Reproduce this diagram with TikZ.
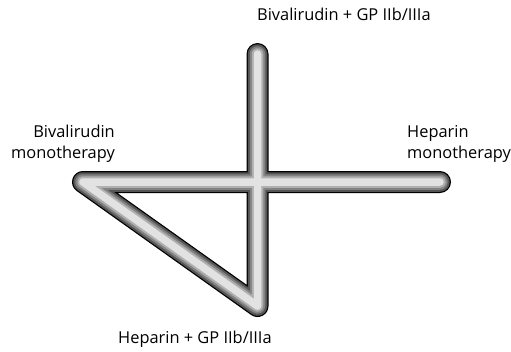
\documentclass[tikz,border=0pt]{standalone}
\usepackage{fontspec}
\setmainfont{Open Sans}
\usepackage{tikz}
\usetikzlibrary{positioning,calc}
\definecolor{tubedark}{HTML}{555555}
\definecolor{tubemid}{HTML}{838383}
\definecolor{tubelight}{HTML}{B0B0B0}
\definecolor{tubecore}{HTML}{E2E2E2}

\begin{document}
\begin{tikzpicture}[
  x=1pt,y=-1pt,
  lbl/.style={font=\fontsize{16.4}{21}\selectfont, inner sep=0pt},
  tube/.style={line cap=round, line join=round}
]
\useasboundingbox (0,0) rectangle (511,351);
\coordinate (bivgp) at (257.5,54);
\coordinate (hepgp) at (257.5,306);
\coordinate (biv) at (83,182);
\coordinate (hep) at (440,182);
% layered strokes give the tube look
\foreach \w/\c in {22/black,19.5/tubedark,15.5/tubemid,11.5/tubelight,7.5/tubecore}{
  \draw[tube, line width=\w, draw=\c] (hep) -- (biv) -- (hepgp) -- (bivgp);
}
\node[lbl, anchor=base west] (tbivgp) at (257,20) {Bivalirudin + GP IIb/IIIa};
\node[lbl, anchor=base west] (thepgp) at (118,343) {Heparin + GP IIb/IIIa};
\node[lbl, align=right, anchor=base east] (tbiv) at (115,158) {Bivalirudin\\monotherapy};
\node[lbl, align=left, anchor=base west] (thep) at (407,158) {Heparin\\monotherapy};
\end{tikzpicture}
\end{document}
